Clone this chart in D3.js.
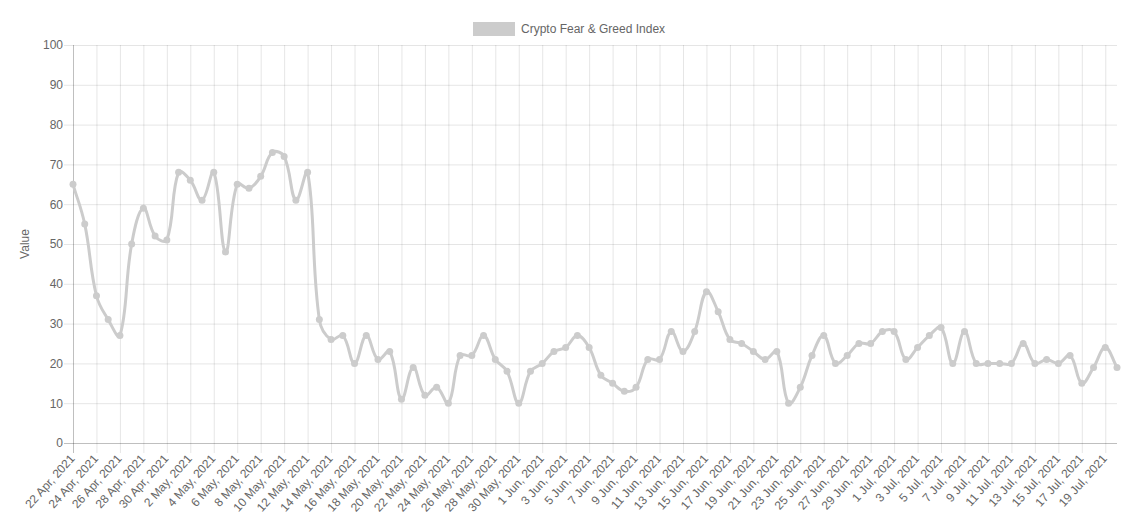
<!DOCTYPE html>
<html>
<head>
<meta charset="utf-8">
<script src="https://cdn.jsdelivr.net/npm/d3@7"></script>
<style>
  body { margin: 0; background: #fff; }
  svg { display: block; font-family: "Liberation Sans", Arial, Helvetica, sans-serif; }
</style>
</head>
<body>
<div class="chart"></div>
<script>
// data (one value per day, 22 Apr 2021 .. 20 Jul 2021)
const startDate = new Date(2021, 3, 22);
const endDate = new Date(2021, 6, 21);
const seriesName = "Crypto Fear & Greed Index";
const values = [
  65, 55, 37, 31, 27, 50, 59, 52, 51, 68,
  66, 61, 68, 48, 65, 64, 67, 73, 72, 61,
  68, 31, 26, 27, 20, 27, 21, 23, 11, 19,
  12, 14, 10, 22, 22, 27, 21, 18, 10, 18,
  20, 23, 24, 27, 24, 17, 15, 13, 14, 21,
  21, 28, 23, 28, 38, 33, 26, 25, 23, 21,
  23, 10, 14, 22, 27, 20, 22, 25, 25, 28,
  28, 21, 24, 27, 29, 20, 28, 20, 20, 20,
  20, 25, 20, 21, 20, 22, 15, 19, 24, 19
];
const yTicks = [0, 10, 20, 30, 40, 50, 60, 70, 80, 90, 100];

const fmt = d3.timeFormat("%-d %b, %Y");
const labels = d3.timeDays(startDate, endDate).map(fmt);

const width = 1129;
const height = 532;
const plot = { left: 73, right: 1117, top: 45, bottom: 443 };
const grey = "rgb(204, 204, 204)";
const textColor = "#666";

const svg = d3.select(".chart")
  .append("svg")
  .attr("width", width)
  .attr("height", height);

const x = d3.scalePoint().domain(labels).range([plot.left, plot.right]);
const y = d3.scaleLinear().domain([0, 100]).range([plot.bottom, plot.top]);

const xTickLabels = labels.filter((d, i) => i % 2 === 0);

// horizontal grid + y ticks
const yAxis = svg.append("g")
  .attr("transform", `translate(${plot.left},0)`)
  .call(d3.axisLeft(y).tickValues(yTicks).tickSize(plot.right - plot.left + 9).tickPadding(1))
  .call(g => g.select(".domain").remove());
yAxis.selectAll(".tick line")
  .attr("x1", -9)
  .attr("x2", plot.right - plot.left)
  .attr("stroke", (d) => d === 0 ? "rgba(0,0,0,0.25)" : "rgba(0,0,0,0.1)");
yAxis.selectAll(".tick text")
  .attr("x", -10)
  .attr("fill", textColor)
  .attr("font-size", 12);

// vertical grid + x ticks
const xAxis = svg.append("g")
  .attr("transform", `translate(0,${plot.bottom})`)
  .call(d3.axisBottom(x).tickValues(xTickLabels).tickSize(10))
  .call(g => g.select(".domain").remove());
xAxis.selectAll(".tick line")
  .attr("y1", plot.top - plot.bottom)
  .attr("y2", 10)
  .attr("stroke", (d, i) => i === 0 ? "rgba(0,0,0,0.25)" : "rgba(0,0,0,0.1)");
xAxis.selectAll(".tick text")
  .attr("fill", textColor)
  .attr("font-size", 12)
  .attr("text-anchor", "end")
  .attr("dy", null)
  .attr("transform", "translate(2,16) rotate(-48)")
  .attr("x", 0)
  .attr("y", 0);

// y axis title
svg.append("text")
  .attr("transform", `translate(29,${(plot.top + plot.bottom) / 2}) rotate(-90)`)
  .attr("text-anchor", "middle")
  .attr("fill", textColor)
  .attr("font-size", 12)
  .text("Value");

// chart.js-like spline (tension 0.4)
function splinePath(pts, t) {
  const p = d3.path();
  const cps = pts.map((cur, i) => {
    const prev = pts[i - 1] || cur;
    const next = pts[i + 1] || cur;
    const d01 = Math.hypot(cur[0] - prev[0], cur[1] - prev[1]);
    const d12 = Math.hypot(next[0] - cur[0], next[1] - cur[1]);
    let s01 = d01 / (d01 + d12);
    let s12 = d12 / (d01 + d12);
    if (isNaN(s01)) s01 = 0;
    if (isNaN(s12)) s12 = 0;
    const fa = t * s01, fb = t * s12;
    return {
      px: cur[0] - fa * (next[0] - prev[0]),
      py: cur[1] - fa * (next[1] - prev[1]),
      nx: cur[0] + fb * (next[0] - prev[0]),
      ny: cur[1] + fb * (next[1] - prev[1])
    };
  });
  p.moveTo(pts[0][0], pts[0][1]);
  for (let i = 1; i < pts.length; i++) {
    p.bezierCurveTo(cps[i - 1].nx, cps[i - 1].ny, cps[i].px, cps[i].py, pts[i][0], pts[i][1]);
  }
  return p.toString();
}

const points = values.map((v, i) => [x(labels[i]), y(v)]);

svg.append("path")
  .attr("d", splinePath(points, 0.4))
  .attr("fill", "none")
  .attr("stroke", grey)
  .attr("stroke-width", 3);

svg.append("g")
  .selectAll("circle")
  .data(values)
  .enter()
  .append("circle")
  .attr("cx", (d, i) => x(labels[i]))
  .attr("cy", (d) => y(d))
  .attr("r", 3.5)
  .attr("fill", grey);

// legend
const legend = svg.append("g");
legend.append("rect")
  .attr("x", 473)
  .attr("y", 22)
  .attr("width", 42)
  .attr("height", 14)
  .attr("fill", grey);
legend.append("text")
  .attr("x", 521)
  .attr("y", 33)
  .attr("fill", textColor)
  .attr("font-size", 12)
  .text(seriesName);
</script>
</body>
</html>
